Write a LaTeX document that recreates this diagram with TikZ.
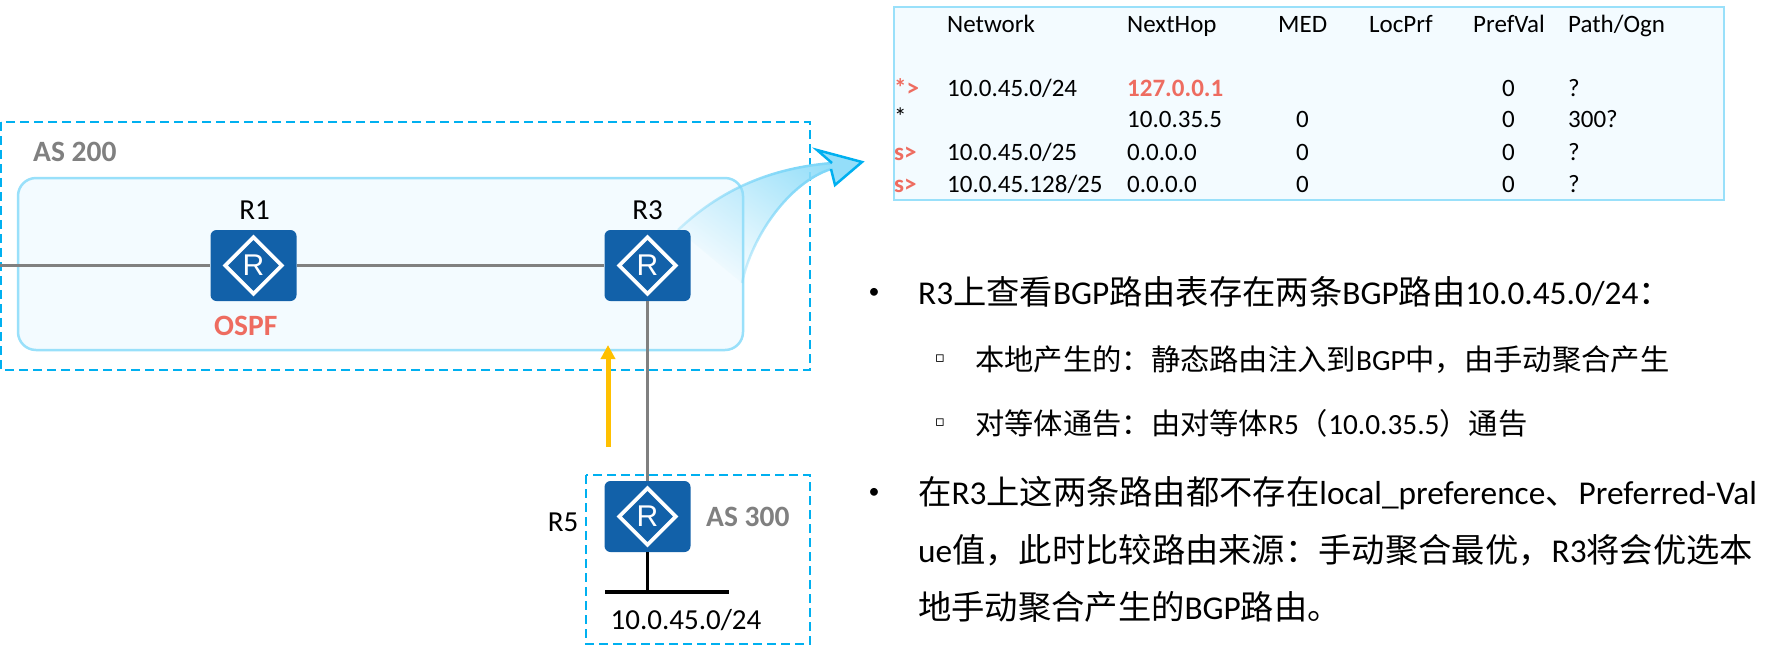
\documentclass[tikz,border=0pt]{standalone}
\usepackage{fontspec}
\setmainfont{Carlito}
\newfontfamily\cjk{Noto Sans CJK SC}
\newfontfamily\symb{DejaVu Sans}
\newfontfamily\iconfont{Liberation Sans}
\usetikzlibrary{shapes.geometric,fadings,arrows.meta}
\definecolor{asblue}{HTML}{00B0F0}
\definecolor{paleblue}{HTML}{99E0FA}
\definecolor{tintblue}{HTML}{F3FBFF}
\definecolor{routerblue}{HTML}{1261A9}
\definecolor{alertred}{HTML}{EE6C60}
\definecolor{flowyellow}{HTML}{FFC000}
\newcommand{\zh}[1]{{\cjk #1}}
\tikzfading[name=bendfade,left color=transparent!100,right color=transparent!0]
\tikzfading[name=edgefade,left color=transparent!75,right color=transparent!0]
\begin{document}
\begin{tikzpicture}[x=1pt,y=-1pt]
\tikzstyle{asbox}=[draw=asblue,line width=2.5pt,dash pattern=on 9pt off 5pt]
\tikzstyle{tintbox}=[draw=paleblue,line width=2.5pt,fill=tintblue]
\tikzstyle{router}=[fill=routerblue,rounded corners=6pt,minimum width=86pt,minimum height=71pt,inner sep=0pt]
\tikzstyle{rmark}=[draw=white,line width=3.6pt,diamond,minimum width=58pt,minimum height=58pt,inner sep=0pt,text=white,font=\iconfont\fontsize{30}{30}\selectfont]
\tikzstyle{link}=[draw=gray,line width=3.6pt]
\tikzstyle{label}=[inner sep=0pt,font=\fontsize{29}{29}\selectfont]
\tikzstyle{asname}=[inner sep=0pt,text=gray,font=\bfseries\fontsize{29.5}{29.5}\selectfont]
\tikzstyle{cell}=[inner sep=0pt,anchor=west,text height=16pt,text depth=0pt,font=\fontsize{25}{25}\selectfont]
\tikzstyle{hot}=[cell,text=alertred,font=\bfseries\fontsize{25}{25}\selectfont]
\tikzstyle{para}=[inner sep=0pt,anchor=west,font=\fontsize{33.3}{33.3}\selectfont]
\tikzstyle{subpara}=[inner sep=0pt,anchor=west,font=\fontsize{29.3}{29.3}\selectfont]
\useasboundingbox (0,0) rectangle (1779,654);
% boxes
\draw[asbox] (1,122) rectangle (810,370);
\draw[asbox] (586,475) rectangle (810,644);
\draw[tintbox,rounded corners=18pt] (18,178) rectangle (743,350);
\draw[tintbox] (894,7) rectangle (1724,200);
% callout arrow
\coordinate (bendstart) at (678,230);
\coordinate (bendneck) at (832,163);
\coordinate (bendback) at (817,150);
\coordinate (bendtip) at (862,162);
\coordinate (bendlow) at (835,185);
\coordinate (bendinner) at (831,169);
\coordinate (bendend) at (742,283);
\path[fill=asblue!42,path fading=bendfade,fading angle=45,fit fading=true] (bendstart)
  .. controls (720,190) and (770,168) .. (bendneck) -- (bendback) -- (bendtip) -- (bendlow) -- (bendinner)
  .. controls (790,182) and (752,235) .. (bendend) -- cycle;
\path[draw=asblue!50,line width=2.5pt,path fading=edgefade,fading angle=45,fit fading=true] (bendstart)
  .. controls (720,190) and (770,168) .. (bendneck)
  (bendinner) .. controls (790,182) and (752,235) .. (bendend);
\draw[asblue,line width=2.5pt,line join=miter] (bendneck) -- (bendback) -- (bendtip) -- (bendlow) -- (bendinner);
% routers
\foreach \place/\name in {{(253.5,265.5)/R1},
                          {(647.5,265.5)/R3},
                          {(647.5,516.5)/R5}}
  \node[router] (\name) at \place {};
\foreach \name in {R1,R3,R5}
  \node[rmark] (\name mark) at (\name) {R};
% links
\coordinate (lefttail) at (0,265.5);
\coordinate (lanjoin) at (647.5,592);
\coordinate (lanleft) at (605,592);
\coordinate (lanright) at (729,592);
\path[link] (lefttail) -- (R1) (R1) -- (R3) (R3) -- (R5);
\draw[line width=3.6pt] (R5) -- (lanjoin);
\draw[line width=3.6pt] (lanleft) -- (lanright);
\coordinate (flowfoot) at (608,447);
\coordinate (flowhead) at (608,345);
\draw[flowyellow,line width=5pt,-{Triangle[length=14pt,width=14pt]}] (flowfoot) -- (flowhead);
% diagram labels
\foreach \place/\name/\txt in {{(254.5,210)/labelR1/R1},
                               {(647.5,210)/labelR3/R3},
                               {(563,522)/labelR5/R5},
                               {(686,620)/lan/10.0.45.0\slash 24}}
  \node[label] (\name) at \place {\txt};
\node[asname,anchor=west] (as200) at (33,152) {AS 200};
\node[asname,anchor=west] (as300) at (706,517) {AS 300};
\node[asname,anchor=west,text=alertred] (ospf) at (214,326) {OSPF};
% route table
\foreach \place/\txt [count=\n] in {{(947,24)/Network},
                                    {(1127,24)/NextHop},
                                    {(1278,24)/MED},
                                    {(1369,24)/LocPrf},
                                    {(1473,24)/PrefVal},
                                    {(1568,24)/Path\slash Ogn},
                                    {(947,88)/10.0.45.0\slash 24},
                                    {(1502,88)/0},
                                    {(1568,88)/?},
                                    {(894,117)/*},
                                    {(1127,119)/10.0.35.5},
                                    {(1296,119)/0},
                                    {(1502,119)/0},
                                    {(1568,119)/300?},
                                    {(947,152)/10.0.45.0\slash 25},
                                    {(1127,152)/0.0.0.0},
                                    {(1296,152)/0},
                                    {(1502,152)/0},
                                    {(1568,152)/?},
                                    {(947,184)/10.0.45.128\slash 25},
                                    {(1127,184)/0.0.0.0},
                                    {(1296,184)/0},
                                    {(1502,184)/0},
                                    {(1568,184)/?}}
  \node[cell] (cell\n) at \place {\txt};
\foreach \place/\txt [count=\n] in {{(894,88)/*>},
                                    {(1127,88)/127.0.0.1},
                                    {(894,152)/s>},
                                    {(894,184)/s>}}
  \node[hot] (hot\n) at \place {\txt};
% notes
\node[para,anchor=center,font=\fontsize{22}{22}\selectfont] (dot1) at (874,293) {•};
\node[para,anchor=center,font=\fontsize{22}{22}\selectfont] (dot2) at (874,493) {•};
\node[subpara,anchor=center,font=\fontsize{15}{15}\selectfont] (tick1) at (940,359) {\symb ▫};
\node[subpara,anchor=center,font=\fontsize{15}{15}\selectfont] (tick2) at (940,423) {\symb ▫};
\node[para] (note1) at (918,292) {R3\zh{上查看}BGP\zh{路由表存在两条}BGP\zh{路由}10.0.45.0/24\zh{：}};
\node[subpara] (note2) at (975,360) {\zh{本地产生的：静态路由注入到}BGP\zh{中，由手动聚合产生}};
\node[subpara] (note3) at (975,423) {\zh{对等体通告：由对等体}R5\zh{（}10.0.35.5\zh{）通告}};
\node[para] (note4) at (918,493) {\zh{在}R3\zh{上这两条路由都不存在}local\_preference\zh{、}Preferred-Val};
\node[para] (note5) at (918,550) {ue\zh{值，此时比较路由来源：手动聚合最优，}R3\zh{将会优选本}};
\node[para] (note6) at (918,607) {\zh{地手动聚合产生的}BGP\zh{路由。}};
\end{tikzpicture}
\end{document}
